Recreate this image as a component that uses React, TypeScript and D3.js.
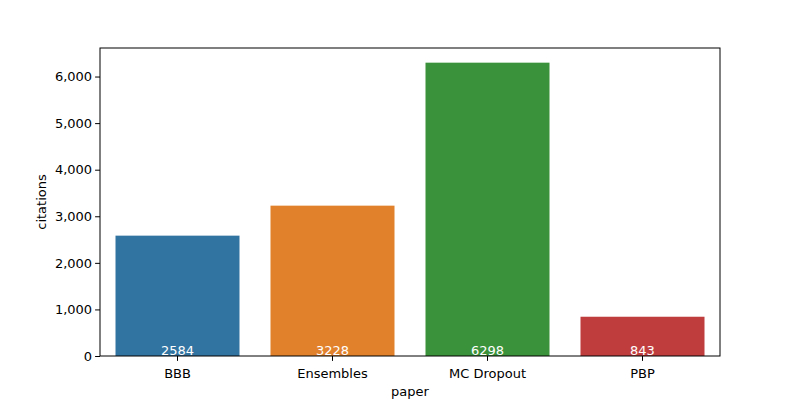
import React, { useEffect, useRef } from "react";
import * as d3 from "d3";

const papers = ["BBB", "Ensembles", "MC Dropout", "PBP"];
const citations = [2584, 3228, 6298, 843];
const colors = ["#3274a1", "#e1812c", "#3a923a", "#c03d3e"];
const yTicks = [0, 1000, 2000, 3000, 4000, 5000, 6000];

export default function App() {
  const ref = useRef<SVGSVGElement>(null);

  useEffect(() => {
    document.body.style.margin = "0";
    const w = 800, h = 400;
    const m = { top: 48, right: 80, bottom: 44, left: 100 };
    const svg = d3.select(ref.current!);
    svg.selectAll("*").remove();
    svg.attr("width", w).attr("height", h).style("font-family", "DejaVu Sans");

    const x = d3.scaleBand().domain(papers).range([m.left, w - m.right]).paddingInner(0.2).paddingOuter(0.1);
    const y = d3.scaleLinear().domain([0, 6298 * 1.05]).range([h - m.bottom, m.top]);

    svg.selectAll("rect.bar")
      .data(papers)
      .enter()
      .append("rect")
      .attr("x", d => x(d)!)
      .attr("width", x.bandwidth())
      .attr("y", (d, i) => y(citations[i]))
      .attr("height", (d, i) => y(0) - y(citations[i]))
      .attr("fill", (d, i) => colors[i]);

    svg.selectAll("text.val")
      .data(papers)
      .enter()
      .append("text")
      .text((d, i) => citations[i])
      .attr("x", d => x(d)! + x.bandwidth() / 2)
      .attr("y", y(0) - 1)
      .attr("text-anchor", "middle")
      .attr("font-size", "13px")
      .attr("fill", "white");

    const xAxis = svg.append("g")
      .attr("transform", `translate(0,${h - m.bottom})`)
      .call(d3.axisBottom(x).tickSize(4.9).tickSizeOuter(0));
    const yAxis = svg.append("g")
      .attr("transform", `translate(${m.left},0)`)
      .call(d3.axisLeft(y).tickValues(yTicks).tickSize(4.9).tickSizeOuter(0));
    [xAxis, yAxis].forEach(g => {
      g.selectAll("text").attr("font-size", "13px").attr("fill", "black").style("font-family", "DejaVu Sans");
      g.select(".domain").remove();
    });
    xAxis.selectAll("text").attr("dy", "1.05em");

    svg.append("rect")
      .attr("x", m.left).attr("y", m.top)
      .attr("width", w - m.left - m.right).attr("height", h - m.top - m.bottom)
      .attr("fill", "none").attr("stroke", "black").attr("stroke-width", 1);

    svg.append("text").text("paper")
      .attr("x", (m.left + w - m.right) / 2).attr("y", 396)
      .attr("text-anchor", "middle").attr("font-size", "13px");
    svg.append("text").text("citations")
      .attr("transform", `translate(46,${(m.top + h - m.bottom) / 2}) rotate(-90)`)
      .attr("text-anchor", "middle").attr("font-size", "13px");
  }, []);

  return <svg ref={ref} style={{ display: "block" }} />;
}
